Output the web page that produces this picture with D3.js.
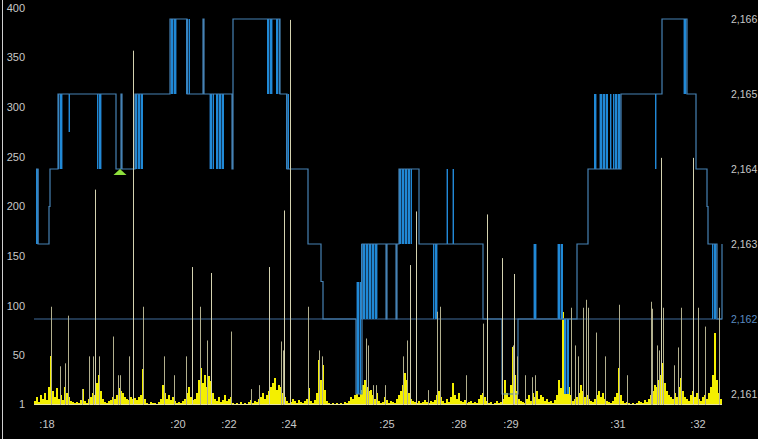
<!DOCTYPE html>
<html><head><meta charset="utf-8">
<script src="https://cdn.jsdelivr.net/npm/d3@7"></script>
<style>html,body{margin:0;padding:0;background:#000;overflow:hidden}</style>
</head><body><svg id="c" width="758" height="439"></svg>
<script>
// ---------- DATA ----------
const timeLabels = [":18", ":20", ":22", ":24", ":25", ":28", ":29", ":31", ":32"];
const timeLabelTicks = [13, 144, 195, 255, 353, 425, 477, 584, 664];
const volumeTicks = [1, 50, 100, 150, 200, 250, 300, 350, 400];
const priceTicks = [2161, 2162, 2163, 2164, 2165, 2166];
const referencePrice = 2162;

// price step changes: [tick, price]
const priceSteps = [
  [2,2164],[4,2163],[15,2163.5],[16,2164],[24,2165],[82,2164],[87,2165],[88,2164],
  [101,2165],[136,2166],[153,2165],[169,2166],[170,2165],[198,2164],[199,2166],
  [246,2165],[253,2164],[274,2163],[287,2162.5],[289,2162],[322,2161],[328,2163],
  [352,2162],[353,2163],[362,2162],[363,2163],[365,2164],[385,2163],[449,2162],
  [468,2161],[484,2162],[543,2163],[554,2164],[587,2165],[628,2166],[653,2165],
  [662,2164],[673,2163.5],[674,2163],[683,2162],[688,2163]
];
// fast bid/ask flicker zones: [tickStart, tickEnd, low, high]
const flickerZones = [
  [2,5,2163,2164],[24,29,2164,2165],[34,36,2164.5,2165],[63,68,2164,2165],
  [101,109,2164,2165],[136,143,2165,2166],[152,156,2165,2166],[175,180,2164,2165],
  [182,190,2164,2165],[233,239,2165,2166],[242,246,2165,2166],[252,255,2164,2165],
  [322,327,2161,2162.5],[327,344,2162,2163],[365,378,2163,2164],[399,404,2162,2163],
  [412,414,2163,2164],[418,420,2163,2164],[499,503,2162,2163],[523,529,2162,2163],
  [530,535,2161,2162],[560,563,2164,2165],[565,574,2164,2165],[576,578,2164,2165],
  [579,587,2164,2165],[621,623,2164,2165],[649,653,2165,2166],[678,683,2162,2163]
];
// small trade volumes, one every 2 ticks
const volumes = [
  4,8,3,10,6,12,5,18,49,14,8,17,6,10,5,18,12,8,4,3,
  2,3,2,5,16,4,2,6,8,12,10,22,30,14,6,3,2,4,5,8,
  6,10,17,14,12,8,6,5,8,6,7,5,8,10,36,6,2,1,3,2,
  2,1,3,6,20,12,6,10,5,8,4,2,3,2,4,6,12,18,8,5,
  6,12,25,37,22,30,18,29,24,12,6,4,8,3,5,10,4,6,8,2,
  1,2,1,3,1,2,1,3,5,2,4,3,6,8,12,6,10,14,18,22,
  27,15,20,18,12,8,4,2,3,6,4,2,5,3,2,4,6,17,4,2,
  5,12,45,25,40,15,4,2,1,2,1,2,1,2,1,3,2,4,8,6,
  10,12,8,15,20,25,18,14,15,10,6,12,4,2,3,8,5,2,4,3,
  2,6,10,14,20,32,25,12,6,4,3,2,4,2,3,5,3,2,4,3,
  5,10,14,8,4,2,6,3,8,22,10,6,12,4,3,5,2,3,4,2,
  3,2,6,10,12,8,4,2,3,1,2,4,2,3,6,25,12,8,20,58,
  30,14,6,4,3,2,6,10,4,12,8,14,6,10,8,4,6,3,4,2,
  5,10,25,17,94,20,14,18,10,4,6,8,12,20,14,8,10,6,4,3,
  6,10,14,8,12,6,4,3,2,4,8,12,37,10,4,2,3,2,1,2,
  1,2,4,3,2,5,3,6,10,14,20,18,25,30,42,22,14,10,8,6,
  12,8,18,27,14,8,6,4,10,14,8,12,6,4,8,10,6,12,18,30,
  73,25,12,6
];
// large single prints: [tick, volume]
const largePrints = [
  [17,99],[34,90],[26,39],[31,42],[48,16],[55,49],[59,49],[61,217],[65,49],[79,69],
  [84,30],[86,30],[95,49],[99,357],[109,99],[130,49],[140,30],[152,49],[158,139],[166,99],
  [173,65],[177,133],[197,74],[217,16],[225,20],[235,139],[247,64],[249,55],[250,196],[256,388],
  [274,99],[285,55],[288,49],[332,67],[334,60],[339,20],[342,20],[351,20],[369,49],[373,65],
  [376,141],[382,195],[394,15],[403,94],[406,99],[432,30],[449,82],[453,192],[468,148],[479,60],
  [480,132],[483,49],[491,30],[498,28],[501,30],[537,98],[541,60],[544,49],[549,98],[552,106],
  [554,98],[562,73],[571,49],[585,101],[593,30],[617,104],[618,97],[623,60],[625,55],[627,249],
  [629,98],[640,40],[644,58],[647,98],[659,249],[664,98],[671,79],[685,98]
];
const tradeMarkers = [[86, 2164]];

// ---------- CHART ----------
const svg = d3.select("#c");
svg.append("rect").attr("width", 758).attr("height", 439).attr("fill", "#000");

// striped pattern for fast flicker zones
const defs = svg.append("defs");
const pat = defs.append("pattern").attr("id", "flick").attr("patternUnits", "userSpaceOnUse")
  .attr("width", 3).attr("height", 4);
pat.append("rect").attr("width", 3).attr("height", 4).attr("fill", "#12395c");
pat.append("rect").attr("width", 2).attr("height", 4).attr("fill", "#2089d6");

const x = d3.scaleLinear().domain([0, 688]).range([34, 722]);
const yVol = d3.scaleLinear().domain([0, 400]).range([405, 8]);
const yPx = d3.scaleLinear().domain([2161, 2166]).range([394, 19]);

// left frame line
svg.append("line").attr("x1", 2.5).attr("x2", 2.5).attr("y1", 0).attr("y2", 439)
  .attr("stroke", "#cfcfcf").attr("stroke-width", 1);

// yellow volume bars
svg.append("g").selectAll("rect").data(volumes).join("rect")
  .attr("x", (d, i) => x(i * 2))
  .attr("width", 2)
  .attr("y", d => yVol(d))
  .attr("height", d => yVol(0) - yVol(d))
  .attr("fill", "#f4ef00")
  .attr("shape-rendering", "crispEdges");

// baseline
svg.append("line").attr("x1", x(0)).attr("x2", x(688)).attr("y1", yVol(0) - 0.5).attr("y2", yVol(0) - 0.5)
  .attr("stroke", "#e8e4a0").attr("stroke-width", 1);

// reference price line
svg.append("line").attr("x1", x(0)).attr("x2", x(688))
  .attr("y1", yPx(referencePrice)).attr("y2", yPx(referencePrice))
  .attr("stroke", "#2b4868").attr("stroke-width", 1.6);

// flicker zones
svg.append("g").selectAll("rect").data(flickerZones).join("rect")
  .attr("x", d => x(d[0]))
  .attr("width", d => x(d[1]) - x(d[0]))
  .attr("y", d => yPx(d[3]))
  .attr("height", d => yPx(d[2]) - yPx(d[3]))
  .attr("fill", "url(#flick)")
  .attr("shape-rendering", "crispEdges");

// price step line
const line = d3.line().x(d => x(d[0])).y(d => yPx(d[1])).curve(d3.curveStepAfter);
svg.append("path").datum(priceSteps).attr("d", line)
  .attr("fill", "none").attr("stroke", "#4682b4").attr("stroke-width", 1.2);

// large prints
svg.append("g").selectAll("line").data(largePrints).join("line")
  .attr("x1", d => Math.round(x(d[0])) + 0.5).attr("x2", d => Math.round(x(d[0])) + 0.5)
  .attr("y1", yVol(0)).attr("y2", d => yVol(d[1]))
  .attr("stroke", d => d[1] > 120 ? "#d4d2b0" : "#b2b08e").attr("stroke-width", 1);

// trade markers
svg.append("g").selectAll("path").data(tradeMarkers).join("path")
  .attr("d", d => {
    const cx = x(d[0]), cy = yPx(d[1]);
    return `M${cx},${cy}L${cx + 6.5},${cy + 6}L${cx - 6.5},${cy + 6}Z`;
  })
  .attr("fill", "#8ee03c");

// axes text
const font = "'Liberation Sans', Arial, sans-serif";
svg.append("g").selectAll("text").data(volumeTicks).join("text")
  .attr("x", 25).attr("y", d => yVol(d)).attr("dy", "0.35em")
  .attr("text-anchor", "end").attr("font-family", font).attr("font-size", 11)
  .attr("fill", "#c8c8c8").text(d => d);

const fmt = d3.format(",");
svg.append("g").selectAll("text").data(priceTicks).join("text")
  .attr("x", 731).attr("y", d => yPx(d)).attr("dy", "0.35em")
  .attr("text-anchor", "start").attr("font-family", font).attr("font-size", 10.5)
  .attr("fill", d => d === referencePrice ? "#5b8cc2" : "#c8c8c8").text(d => fmt(d));

svg.append("g").selectAll("text").data(timeLabels).join("text")
  .attr("x", (d, i) => x(timeLabelTicks[i])).attr("y", 424).attr("dy", "0.35em")
  .attr("text-anchor", "middle").attr("font-family", font).attr("font-size", 11)
  .attr("fill", "#c8c8c8").text(d => d);
</script>
</body></html>
